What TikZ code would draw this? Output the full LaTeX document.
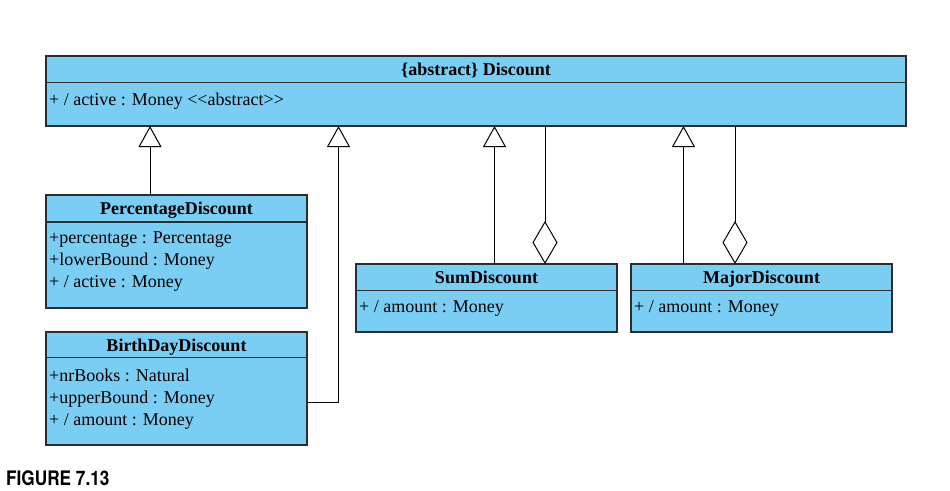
\documentclass[tikz,border=0pt]{standalone}
\usepackage{fontspec}
\setmainfont{Liberation Serif}
\newfontfamily\figfont[FakeStretch=0.86]{TeX Gyre Heros}
\usetikzlibrary{arrows.meta}
\definecolor{clsfill}{RGB}{122,206,244}
\definecolor{clsline}{RGB}{45,45,45}
\tikzset{
  classbox/.style={draw=clsline, fill=clsfill, line width=1.2pt, inner sep=0pt, outer sep=0pt, anchor=north west},
  ctitle/.style={font=\fontsize{18}{22}\selectfont\bfseries, inner sep=0pt, anchor=base},
  cattr/.style={font=\fontsize{18}{22}\selectfont, inner sep=0pt, anchor=base west},
  sepline/.style={draw=clsline, line width=1.2pt},
  gen/.style={-{Triangle[open,length=21pt,width=23pt]}, line width=1pt},
  agg/.style={{Diamond[open,length=43pt,width=25pt]}-, line width=1pt},
}
\begin{document}
\begin{tikzpicture}[x=1pt,y=-1pt]
\fill[white] (0,0) rectangle (950,490);
\useasboundingbox (0,0) rectangle (950,490);

% Discount
\node[classbox, minimum width=860pt, minimum height=70pt] (disc) at (46,56) {};
\node[ctitle] (disc-t) at ([yshift=-19.5pt]disc.north) {\{abstract\} Discount};
\draw[sepline] ([yshift=-26.5pt]disc.north west) -- ([yshift=-26.5pt]disc.north east);
\node[cattr] (disc-a1) at ([xshift=3pt,yshift=-49pt]disc.north west) {+ / active : Money \mbox{<}\mbox{<}abstract\mbox{>}\mbox{>}};

% PercentageDiscount
\node[classbox, minimum width=261pt, minimum height=113pt] (perc) at (46,195) {};
\node[ctitle] (perc-t) at ([yshift=-19.5pt]perc.north) {PercentageDiscount};
\draw[sepline] ([yshift=-27pt]perc.north west) -- ([yshift=-27pt]perc.north east);
\node[cattr] (perc-a1) at ([xshift=3pt,yshift=-48.5pt]perc.north west) {+percentage : Percentage};
\node[cattr] (perc-a2) at ([xshift=3pt,yshift=-70.5pt]perc.north west) {+lowerBound : Money};
\node[cattr] (perc-a3) at ([xshift=3pt,yshift=-92.5pt]perc.north west) {+ / active : Money};

% BirthDayDiscount
\node[classbox, minimum width=261pt, minimum height=113pt] (birth) at (46,332) {};
\node[ctitle] (birth-t) at ([yshift=-19.5pt]birth.north) {BirthDayDiscount};
\draw[sepline] ([yshift=-25.5pt]birth.north west) -- ([yshift=-25.5pt]birth.north east);
\node[cattr] (birth-a1) at ([xshift=3pt,yshift=-49pt]birth.north west) {+nrBooks : Natural};
\node[cattr] (birth-a2) at ([xshift=3pt,yshift=-71pt]birth.north west) {+upperBound : Money};
\node[cattr] (birth-a3) at ([xshift=3pt,yshift=-93pt]birth.north west) {+ / amount : Money};

% SumDiscount
\node[classbox, minimum width=261pt, minimum height=68pt] (sum) at (356,264) {};
\node[ctitle] (sum-t) at ([yshift=-19pt]sum.north) {SumDiscount};
\draw[sepline] ([yshift=-26.5pt]sum.north west) -- ([yshift=-26.5pt]sum.north east);
\node[cattr] (sum-a1) at ([xshift=3pt,yshift=-48pt]sum.north west) {+ / amount : Money};

% MajorDiscount
\node[classbox, minimum width=261pt, minimum height=68pt] (major) at (631,264) {};
\node[ctitle] (major-t) at ([yshift=-19pt]major.north) {MajorDiscount};
\draw[sepline] ([yshift=-26.5pt]major.north west) -- ([yshift=-26.5pt]major.north east);
\node[cattr] (major-a1) at ([xshift=3pt,yshift=-48pt]major.north west) {+ / amount : Money};

% connector positions
\coordinate (g1) at (150,0);
\coordinate (b2) at (338.5,402);
\coordinate (g3) at (494.5,0);
\coordinate (a3) at (545,0);
\coordinate (g4) at (683.5,0);
\coordinate (a4) at (735,0);

\draw[gen] (perc.north -| g1) -- (disc.south -| g1);
\draw[gen] (birth.east |- b2) -- (b2) -- (disc.south -| b2);
\draw[gen] (sum.north -| g3) -- (disc.south -| g3);
\draw[agg] (sum.north -| a3) -- (disc.south -| a3);
\draw[gen] (major.north -| g4) -- (disc.south -| g4);
\draw[agg] (major.north -| a4) -- (disc.south -| a4);

% caption
\node[font=\figfont\bfseries\fontsize{20}{24}\selectfont, anchor=base west, inner sep=0pt] (fig) at (6,485) {FIGURE 7.13};
\end{tikzpicture}
\end{document}
